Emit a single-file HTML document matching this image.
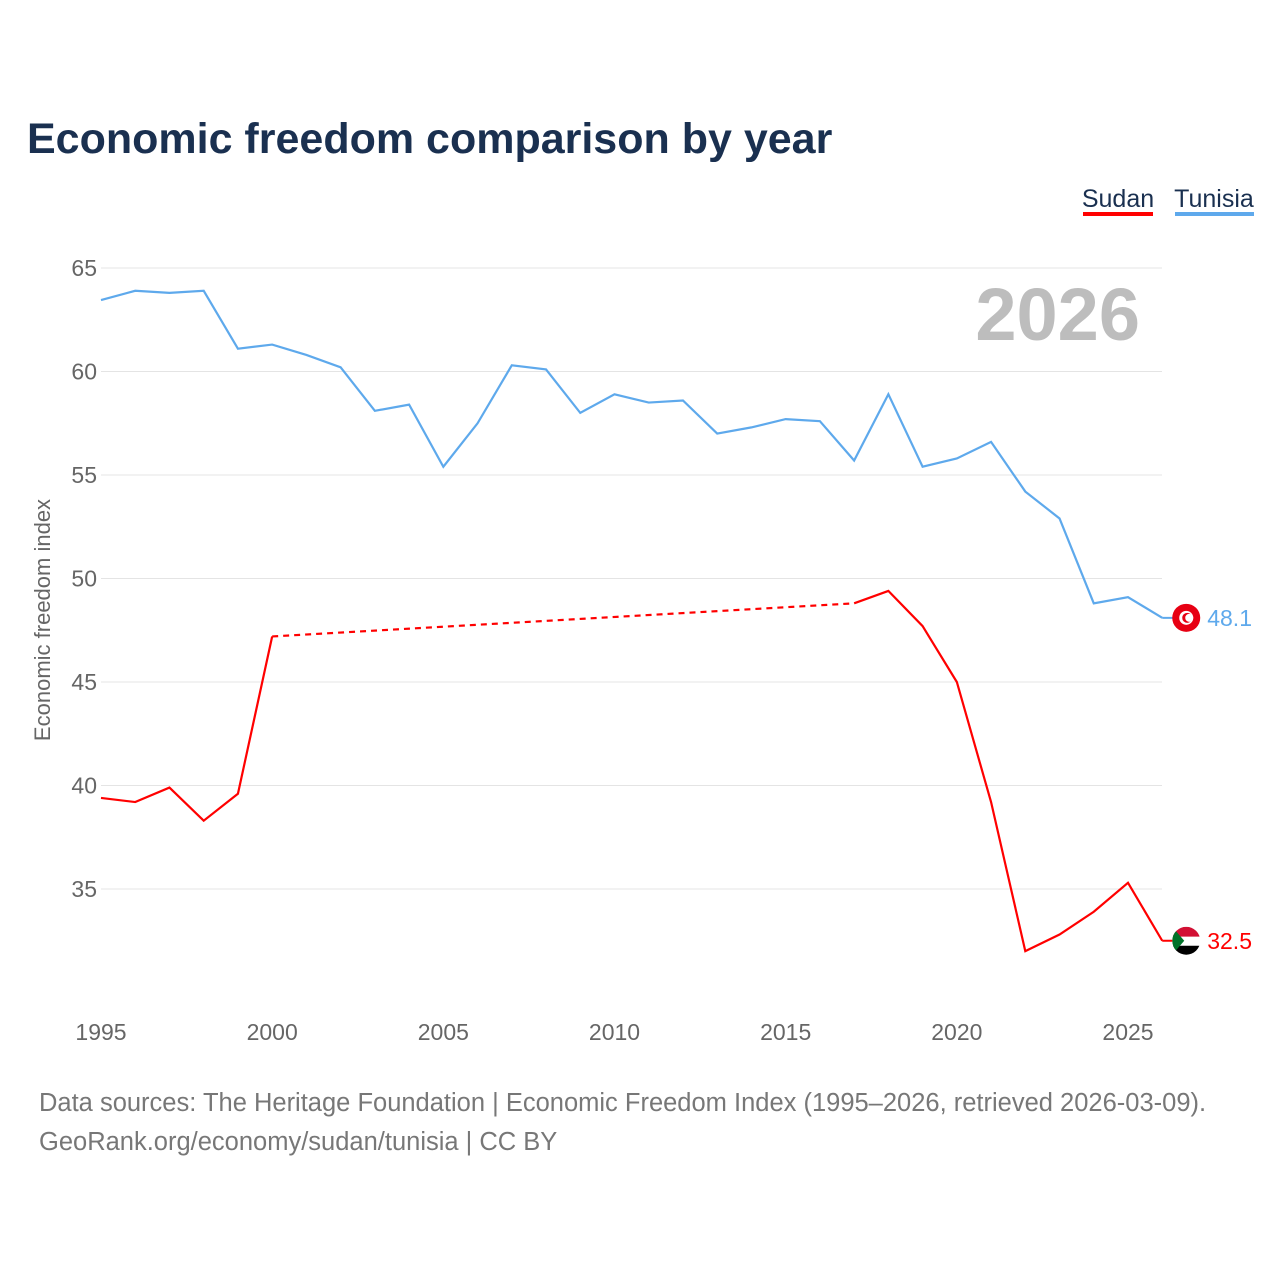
<!DOCTYPE html>
<html><head><meta charset="utf-8">
<style>
html,body{margin:0;padding:0;background:#fff;}
body{width:1280px;height:1280px;position:relative;font-family:"Liberation Sans",sans-serif;overflow:hidden;}
</style></head>
<body>
<svg id="chart" width="1280" height="1280" xmlns="http://www.w3.org/2000/svg" font-family="Liberation Sans, sans-serif">
<text x="27" y="153" font-size="43" font-weight="bold" fill="#1a3050">Economic freedom comparison by year</text>
<g>
<text x="1118" y="207" font-size="25" fill="#1a3050" text-anchor="middle">Sudan</text>
<rect x="1083" y="212" width="70" height="4" fill="#ff0000"/></g>
<g>
<text x="1214" y="207" font-size="25" fill="#1a3050" text-anchor="middle">Tunisia</text>
<rect x="1175" y="212" width="79" height="4" fill="#5ea9ec"/></g>
<text x="1140" y="340" font-size="74" font-weight="bold" fill="#bdbdbd" text-anchor="end">2026</text>
<text transform="translate(50,620) rotate(-90)" font-size="22" fill="#666" text-anchor="middle">Economic freedom index</text>
<g id="grid"></g><g id="series"></g>
<text x="39" y="1111" font-size="25.5" fill="#777">Data sources: The Heritage Foundation | Economic Freedom Index (1995–2026, retrieved 2026-03-09).</text>
<text x="39" y="1150" font-size="25.5" fill="#777">GeoRank.org/economy/sudan/tunisia | CC BY</text>
</svg>
<script>
const years=[1995,1996,1997,1998,1999,2000,2001,2002,2003,2004,2005,2006,2007,2008,2009,2010,2011,2012,2013,2014,2015,2016,2017,2018,2019,2020,2021,2022,2023,2024,2025,2026];
const tunisia=[63.45,63.9,63.8,63.9,61.1,61.3,60.8,60.2,58.1,58.4,55.4,57.5,60.3,60.1,58.0,58.9,58.5,58.6,57.0,57.3,57.7,57.6,55.7,58.9,55.4,55.8,56.6,54.2,52.9,48.8,49.1,48.1];
const sudan=[39.4,39.2,39.9,38.3,39.6,47.2,null,null,null,null,null,null,null,null,null,null,null,null,null,null,null,null,48.8,49.4,47.7,45.0,39.2,32.0,32.8,33.9,35.3,32.5];
const yTicks=[35,40,45,50,55,60,65];
const xTicks=[1995,2000,2005,2010,2015,2020,2025];
const X=y=>101+(y-1995)*(1027/30);
const Y=v=>268+(65-v)*(621/30);
const NS="http://www.w3.org/2000/svg";
function mk(t,a,p){const e=document.createElementNS(NS,t);for(const k in a)e.setAttribute(k,a[k]);p.appendChild(e);return e;}
const grid=document.getElementById('grid'),ser=document.getElementById('series');
yTicks.forEach(v=>{
 const l=mk('line',{x1:101,x2:1162,y1:Y(v),y2:Y(v),stroke:'#e4e4e4','stroke-width':1},grid);
 
 
 const t=mk('text',{x:97,y:Y(v)+8,'font-size':23,fill:'#666','text-anchor':'end'},grid);t.textContent=v;
 
 
});
xTicks.forEach(v=>{
 const t=mk('text',{x:X(v),y:1040,'font-size':23,fill:'#666','text-anchor':'middle'},grid);t.textContent=v;
 
 
});
function pts(arr){return arr.map((v,i)=>v==null?null:[X(years[i]),Y(v)]);}
const tp=pts(tunisia);
const tl=mk('polyline',{points:tp.map(p=>p.join(',')).join(' '),fill:'none',stroke:'#5ea9ec','stroke-width':2.2},ser);


const sp=pts(sudan);
let segs=[],cur=[];
sp.forEach(p=>{if(p)cur.push(p);else{if(cur.length)segs.push(cur);cur=[];}});
if(cur.length)segs.push(cur);
segs.forEach(s=>{const l=mk('polyline',{points:s.map(p=>p.join(',')).join(' '),fill:'none',stroke:'#ff0000','stroke-width':2.2},ser);
 
 });
for(let i=0;i<segs.length-1;i++){const a=segs[i][segs[i].length-1],b=segs[i+1][0];
 const l=mk('line',{x1:a[0],y1:a[1],x2:b[0],y2:b[1],stroke:'#ff0000','stroke-width':2.2,'stroke-dasharray':'6,5'},ser);
 
 }
const lt=tunisia[tunisia.length-1],ls=sudan[sudan.length-1];
const ex=X(2026)+24;
const c1=mk('line',{x1:X(2026),x2:ex,y1:Y(lt),y2:Y(lt),stroke:'#5ea9ec','stroke-width':2},ser);


const c2=mk('line',{x1:X(2026),x2:ex,y1:Y(ls),y2:Y(ls),stroke:'#ff0000','stroke-width':2},ser);


const ft=mk('circle',{cx:ex,cy:Y(lt),r:14,fill:'#e70013'},ser);


mk('circle',{cx:ex,cy:Y(lt),r:7,fill:'#fff'},ser);
mk('circle',{cx:ex+1,cy:Y(lt),r:5,fill:'#e70013'},ser);
mk('circle',{cx:ex+3,cy:Y(lt),r:4,fill:'#fff'},ser);
const g=mk('g',{},ser);


const cy=Y(ls);
mk('clipPath',{id:'sc'},g);mk('circle',{cx:ex,cy:cy,r:14},g.firstChild);
const gg=mk('g',{'clip-path':'url(#sc)'},g);
mk('rect',{x:ex-14,y:cy-14,width:28,height:10,fill:'#d21034'},gg);
mk('rect',{x:ex-14,y:cy-4,width:28,height:9,fill:'#fff'},gg);
mk('rect',{x:ex-14,y:cy+5,width:28,height:10,fill:'#000'},gg);
mk('polygon',{points:`${ex-14},${cy-14} ${ex-2},${cy} ${ex-14},${cy+14}`,fill:'#007229'},gg);
const t1=mk('text',{x:ex+21,y:Y(lt)+8,'font-size':23,fill:'#5ea9ec'},ser);t1.textContent=lt.toFixed(1);


const t2=mk('text',{x:ex+21,y:cy+8,'font-size':23,fill:'#ff0000'},ser);t2.textContent=ls.toFixed(1);


</script>
</body></html>
